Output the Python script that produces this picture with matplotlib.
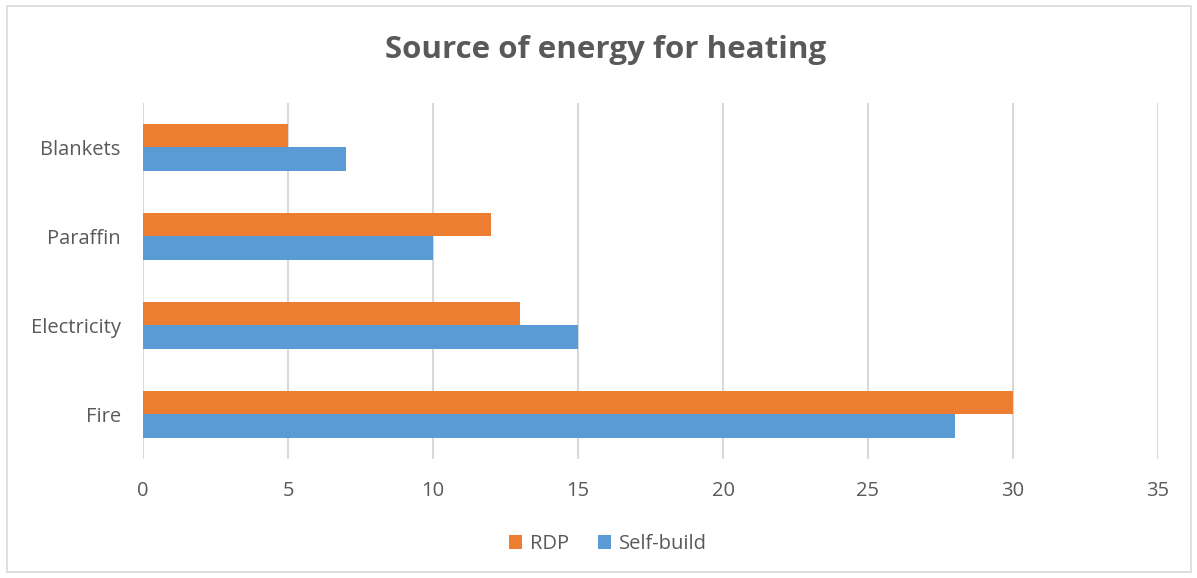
import numpy as np
import matplotlib
matplotlib.use("Agg")
import matplotlib.pyplot as plt
from matplotlib.patches import Rectangle

# data (bottom to top, as drawn)
categories = ["Fire", "Electricity", "Paraffin", "Blankets"]
rdp = [30, 13, 12, 5]
self_build = [28, 15, 10, 7]
x_ticks = [0, 5, 10, 15, 20, 25, 30, 35]

ORANGE = "#ED7D31"
BLUE = "#5B9BD5"
TEXT = "#595959"
GRID = "#D9D9D9"

plt.rcParams["font.family"] = ["Open Sans", "DejaVu Sans"]

fig = plt.figure(figsize=(11.97, 5.78), dpi=100)
ax = fig.add_axes([0.1195, 0.2059, 0.9674 - 0.1195, 0.8218 - 0.2059])

pos = np.arange(len(categories))
h = 0.265
ax.barh(pos + h / 2, rdp, h, color=ORANGE, label="RDP", zorder=3)
ax.barh(pos - h / 2, self_build, h, color=BLUE, label="Self-build", zorder=3)

ax.set_xlim(0, 35)
ax.set_ylim(-0.5, 3.5)
ax.set_xticks(x_ticks)
ax.set_yticks(pos)
ax.set_yticklabels(categories)
ax.xaxis.grid(True, color=GRID, lw=1.5, zorder=0)
ax.yaxis.grid(False)
for s in ax.spines.values():
    s.set_visible(False)
ax.tick_params(axis="both", length=0, colors=TEXT, labelsize=14.5)
ax.tick_params(axis="x", pad=16)
ax.tick_params(axis="y", pad=16)

fig.text(0.506, 0.913, "Source of energy for heating", ha="center", va="center",
         fontsize=22.5, fontweight="bold", color=TEXT)

leg = fig.legend(loc="center", bbox_to_anchor=(0.508, 0.059), ncol=2, frameon=False,
                 fontsize=14.5, handlelength=0.65, handleheight=0.65, handletextpad=0.4,
                 columnspacing=1.4)
for t in leg.get_texts():
    t.set_color(TEXT)

fig.patches.append(Rectangle((0.006, 0.01), 0.989, 0.98, transform=fig.transFigure,
                             fill=False, edgecolor=GRID, lw=1.2))

fig.savefig("out.png", dpi=100)
